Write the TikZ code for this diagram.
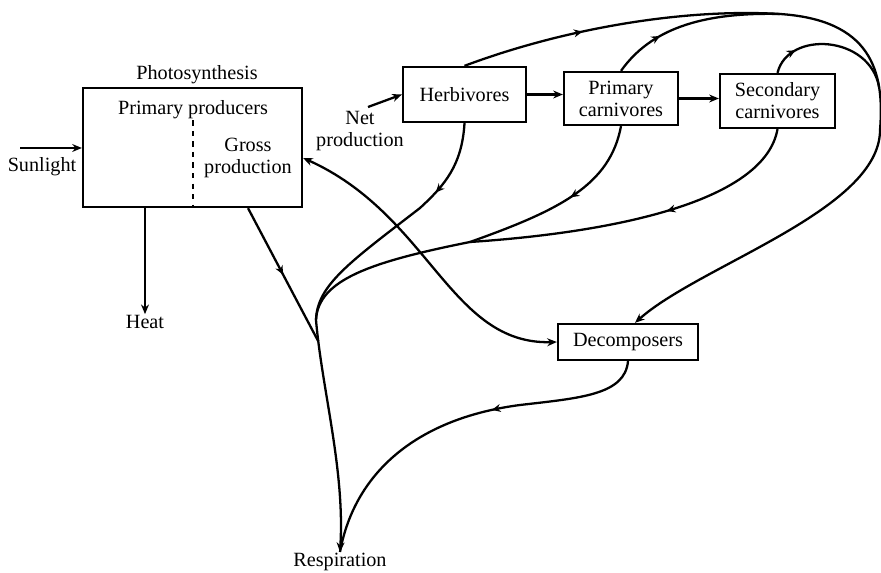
\documentclass[tikz,border=0pt]{standalone}
\usepackage{fontspec}
\setmainfont{Liberation Serif}
\usetikzlibrary{arrows.meta,decorations.markings}

\begin{document}
\begin{tikzpicture}[x=0.02cm, y=-0.02cm, line width=1.3pt, >={Stealth[length=5.5pt,width=4.5pt]},
    block/.style={rectangle, draw, font=\fontsize{11.5}{12.5}\selectfont, align=center, inner sep=1pt},
    lbl/.style={font=\fontsize{11.5}{12.5}\selectfont, align=center, inner sep=0pt},
    flow/.style={postaction={decorate, decoration={markings, mark=at position #1 with {\arrow{Stealth[length=5pt,width=4.5pt]}}}}}]
    \useasboundingbox (0,0) rectangle (881,573);
    \node [block, minimum width=4.38cm, minimum height=2.38cm] (prod) at (192.5,147.5) {};
    \node [block, minimum width=2.46cm, minimum height=1.1cm] (herb) at (464.5,94.5) {Herbivores};
    \node [block, minimum width=2.28cm, minimum height=1.06cm] (prim) at (621,98.5) {Primary\\carnivores};
    \node [block, minimum width=2.3cm, minimum height=1.08cm] (sec) at (777.5,101) {Secondary\\carnivores};
    \node [block, minimum width=2.8cm, minimum height=0.72cm] (decomp) at (628,342) {Decomposers};
    \node [lbl] (photo) at (197,75) {Photosynthesis};
    \node [lbl] (pp) at (193,110) {Primary producers};
    \node [lbl] (gross) at (248,158) {Gross\\production};
    \node [lbl] (sun) at (42,167) {Sunlight};
    \node [lbl] (heat) at (145,322) {Heat};
    \node [lbl] (net) at (360,131) {Net\\production};
    \node [lbl] (resp) at (340,562) {Respiration};
    \coordinate (sunin) at (20,148);
    \coordinate (netin) at (368,107);
    \coordinate (J) at (316,320);
    \coordinate (M) at (470,242);
    \coordinate (top) at (780,14);
    \coordinate (side) at (880,130);
    \draw [dashed, line width=0.8pt] (pp.south) -- (pp |- prod.south);
    \draw [->] (sunin) -- (prod.west |- sunin);
    \draw [->] (heat |- prod.south) -- (heat.north);
    \draw [->] (netin) -- (herb.west);
    \draw [->] (herb.east) -- (herb.east -| prim.west);
    \draw [->] (prim.east) -- (prim.east -| sec.west);
    \draw [<->] (prod.east |- gross) .. controls (430,215) and (450,345) .. (decomp.west);
    \draw [->] (J) .. controls (322,390) and (345,470) .. coordinate [pos=0.1] (G) (resp.north);
    \draw [flow=0.5] (gross |- prod.south) -- (G);
    \draw [flow=0.3] (herb.south) .. controls (462,165) and (445,185) .. (420,208) .. controls (350,262) and (317,285) .. (J);
    \draw [flow=0.45] (prim.south) .. controls (610,185) and (560,210) .. (M);
    \draw [flow=0.42] (sec.south) .. controls (765,200) and (620,232) .. (M);
    \draw (M) .. controls (370,262) and (318,280) .. (J);
    \draw [flow=0.41] (decomp.south) .. controls (625,395) and (580,398) .. (520,405) .. controls (420,418) and (355,470) .. (resp.north);
    \draw [->, flow=0.15] (herb.north) .. controls (560,30) and (680,8) .. (top) .. controls (870,20) and (885,70) .. coordinate [pos=0.75] (S) (side) .. controls (880,210) and (700,265) .. (decomp.70);
    \draw [flow=0.3] (prim.north) .. controls (650,30) and (700,12) .. (top);
    \draw [flow=0.22] (sec.north) .. controls (788,30) and (870,35) .. (S);
\end{tikzpicture}
\end{document}
